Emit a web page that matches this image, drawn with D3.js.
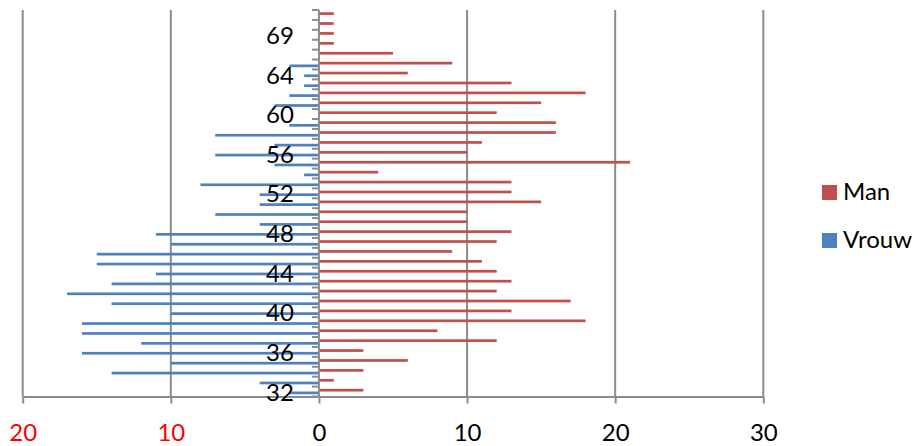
<!DOCTYPE html>
<html>
<head>
<meta charset="utf-8">
<script src="https://cdn.jsdelivr.net/npm/d3@7"></script>
<style>
  body { margin: 0; background: #fff; }
  text { font-family: Lato, "Open Sans", sans-serif; }
</style>
</head>
<body>
<div id="vis"></div>
<script>
const FRAME_HEIGHT = 446;
const FRAME_WIDTH = 917;
const PLOT = {left: 22.7, right: 763.3, top: 10, bottom: 396.5};
const FONT = "24px";

// ages from bottom (32) to top
const AGES = ["32","33","34","35","36","37","38","39","40","41","42","43","44",
              "45","46","47","48","49","50","51","52","53","54","55","56","57",
              "58","59","60","61","62","63","64","65","66","67","69","70","71"];
const MAN = [3,1,3,6,3,12,8,18,13,17,12,13,12,11,9,12,13,10,10,15,13,13,4,21,
             10,11,16,16,12,15,18,13,6,9,5,1,1,1,1];
const VROUW = [2,4,14,10,16,12,16,16,10,14,17,14,11,15,15,10,11,4,7,4,4,8,1,3,
               7,3,7,2,0,3,2,1,1,2,0,0,0,0,0];
const SERIES = ["Man", "Vrouw"];
const X_TICKS = [-20, -10, 0, 10, 20, 30];
const LABEL_EVERY = 4;

const COLORS = {Man: "#c0504d", Vrouw: "#4f81bd"};
const GRID = "#8c8c8c";

const FRAME = d3.select("#vis")
                .append("svg")
                .attr("width", FRAME_WIDTH)
                .attr("height", FRAME_HEIGHT);

const X_SCALE = d3.scaleLinear()
                  .domain([-20, 30])
                  .range([PLOT.left, PLOT.right]);

const Y_SCALE = d3.scaleBand()
                  .domain(AGES)
                  .range([PLOT.bottom, PLOT.top]);

// two bars per age, man above woman
const S_SCALE = d3.scaleBand()
                  .domain(SERIES)
                  .range([0, Y_SCALE.bandwidth()])
                  .paddingOuter(0.83);

const rows = AGES.map((a, i) => ({age: a, Man: MAN[i], Vrouw: -VROUW[i]}));

// gridlines + x axis
const xAxis = FRAME.append("g")
                   .attr("transform", "translate(0," + PLOT.bottom + ")")
                   .call(d3.axisBottom(X_SCALE)
                           .tickValues(X_TICKS)
                           .tickSize(7)
                           .tickSizeOuter(0)
                           .tickFormat((d) => Math.abs(d)));

xAxis.select(".domain").attr("stroke", GRID).attr("stroke-width", 2);
xAxis.selectAll(".tick line").attr("stroke", GRID).attr("stroke-width", 2);
xAxis.selectAll(".tick text")
     .attr("font-size", FONT)
     .attr("y", 27)
     .attr("fill", (d) => d < 0 ? "#ff0000" : "#000");

FRAME.append("g")
     .selectAll("line")
     .data(X_TICKS.filter((d) => d !== 0))
     .enter()
     .append("line")
       .attr("x1", (d) => X_SCALE(d))
       .attr("x2", (d) => X_SCALE(d))
       .attr("y1", PLOT.top)
       .attr("y2", PLOT.bottom)
       .attr("stroke", GRID)
       .attr("stroke-width", 2);

// bars
SERIES.forEach((s) => {
  FRAME.append("g")
       .selectAll("rect")
       .data(rows)
       .enter()
       .append("rect")
         .attr("x", (d) => X_SCALE(Math.min(0, d[s])))
         .attr("width", (d) => Math.abs(X_SCALE(d[s]) - X_SCALE(0)))
         .attr("y", (d) => Y_SCALE(d.age) + S_SCALE(s))
         .attr("height", S_SCALE.bandwidth())
         .attr("fill", COLORS[s]);
});

// category axis on zero
const x0 = X_SCALE(0);
const yAxis = FRAME.append("g");

yAxis.selectAll(".tick")
     .data(AGES.concat(["top"]))
     .enter()
     .append("line")
       .attr("x1", x0 - 7)
       .attr("x2", x0)
       .attr("y1", (d, i) => i < AGES.length ? Y_SCALE(d) + Y_SCALE.bandwidth() : PLOT.top)
       .attr("y2", (d, i) => i < AGES.length ? Y_SCALE(d) + Y_SCALE.bandwidth() : PLOT.top)
       .attr("stroke", GRID)
       .attr("stroke-width", 2);

yAxis.append("line")
     .attr("x1", x0).attr("x2", x0)
     .attr("y1", PLOT.top).attr("y2", PLOT.bottom)
     .attr("stroke", GRID)
     .attr("stroke-width", 2);

yAxis.selectAll("text")
     .data(AGES.filter((d, i) => i % LABEL_EVERY === 0))
     .enter()
     .append("text")
       .attr("x", x0 - 25)
       .attr("y", (d) => Y_SCALE(d) + Y_SCALE.bandwidth() / 2)
       .attr("dy", "0.38em")
       .attr("text-anchor", "end")
       .attr("font-size", FONT)
       .text((d) => d);

// legend
const legend = FRAME.append("g")
                    .selectAll("g")
                    .data(SERIES)
                    .enter()
                    .append("g")
                    .attr("transform", (d, i) => "translate(822," + (185 + i * 48) + ")");

legend.append("rect")
      .attr("width", 15)
      .attr("height", 15)
      .attr("fill", (d) => COLORS[d]);

legend.append("text")
      .attr("x", 21)
      .attr("y", 15)
      .attr("font-size", FONT)
      .text((d) => d);
</script>
</body>
</html>
